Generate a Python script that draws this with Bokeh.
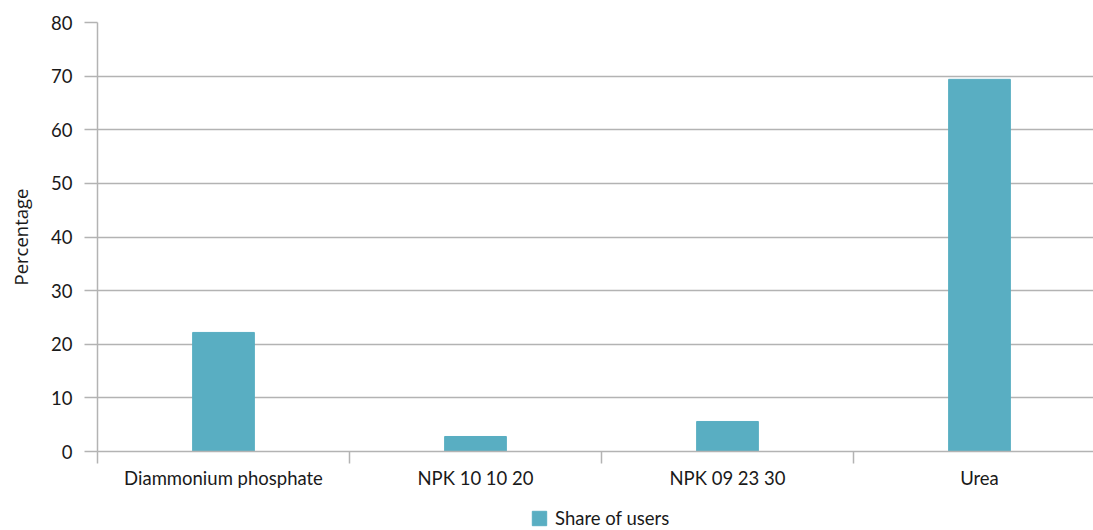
from bokeh.plotting import figure
from bokeh.layouts import column
from bokeh.models import (ColumnDataSource, Range1d, FixedTicker, Legend, LegendItem)
from bokeh.embed import file_html
from bokeh.resources import INLINE

# Fertiliser types and the share of farmers using each
categories = ["Diammonium phosphate", "NPK 10 10 20", "NPK 09 23 30", "Urea"]
share_of_users = [22.2, 2.8, 5.6, 69.4]
y_ticks = [0, 10, 20, 30, 40, 50, 60, 70, 80]
series_name = "Share of users"

FONT = "Lato"
BAR = "#59aec2"
GRID = "#b3b3b3"
TEXT = "#1a1a1a"

centers = [i + 0.5 for i in range(len(categories))]
src = ColumnDataSource(dict(x=centers, top=share_of_users, name=categories))

# the last category slot runs slightly past the right edge of the page
p = figure(width=1093, height=500, output_backend="svg", toolbar_location=None,
           x_range=Range1d(0, 996 / 252), y_range=Range1d(0, 80),
           min_border_left=97, min_border_right=0, min_border_top=22,
           min_border_bottom=49)
p.outline_line_color = None

r = p.vbar(x="x", top="top", width=0.245, bottom=0, source=src, color=BAR)

# y axis
p.yaxis.ticker = FixedTicker(ticks=y_ticks)
p.yaxis.major_tick_out = 13
p.yaxis.major_tick_in = 0
p.yaxis.minor_tick_line_color = None
p.yaxis.major_tick_line_color = GRID
p.yaxis.major_tick_line_width = 1.5
p.yaxis.axis_line_color = GRID
p.yaxis.axis_line_width = 1.5
p.yaxis.major_label_standoff = 12
p.yaxis.major_label_text_font = FONT
p.yaxis.major_label_text_font_size = "18.5px"
p.yaxis.major_label_text_color = TEXT
p.yaxis.axis_label = "Percentage"
p.yaxis.axis_label_text_font = "Open Sans"
p.yaxis.axis_label_text_font_size = "18.5px"
p.yaxis.axis_label_text_font_style = "normal"
p.yaxis.axis_label_text_color = TEXT
p.yaxis.axis_label_standoff = 15

# x axis: labels at category centres, separator ticks at boundaries
p.xaxis.ticker = FixedTicker(ticks=centers,
                             minor_ticks=list(range(len(categories) + 1)))
p.xaxis.major_label_overrides = {c: n for c, n in zip(centers, categories)}
p.xaxis.major_tick_out = 0
p.xaxis.major_tick_in = 0
p.xaxis.minor_tick_out = 12
p.xaxis.minor_tick_in = 0
p.xaxis.minor_tick_line_color = GRID
p.xaxis.minor_tick_line_width = 1.5
p.xaxis.axis_line_color = GRID
p.xaxis.axis_line_width = 1.5
p.xaxis.major_label_standoff = 3
p.xaxis.major_label_text_font = FONT
p.xaxis.major_label_text_font_size = "18.5px"
p.xaxis.major_label_text_color = TEXT

p.xgrid.grid_line_color = None
p.ygrid.ticker = FixedTicker(ticks=y_ticks)
p.ygrid.grid_line_color = GRID
p.ygrid.grid_line_width = 1.5

# legend strip underneath the chart; its swatch renderer sits outside the
# visible range so only the legend entry shows
lg = figure(width=1093, height=30, output_backend="svg", toolbar_location=None,
            x_axis_type=None, y_axis_type=None, min_border=0,
            x_range=Range1d(-20, -19), y_range=Range1d(0, 1))
lg.outline_line_color = None
lg.grid.visible = False
swatch = lg.vbar(x="x", top="top", width=0.245, source=src, color=BAR)
legend = Legend(items=[LegendItem(label=series_name, renderers=[swatch])],
                location=(433, 1), orientation="horizontal",
                padding=0, margin=0, spacing=0,
                glyph_width=18, glyph_height=18, label_standoff=7,
                label_text_font=FONT, label_text_font_size="18.5px",
                label_text_color=TEXT, label_height=18,
                border_line_color=None, background_fill_alpha=0)
lg.add_layout(legend, "center")

open("out.html", "w").write(file_html(column(p, lg, spacing=0), INLINE))
